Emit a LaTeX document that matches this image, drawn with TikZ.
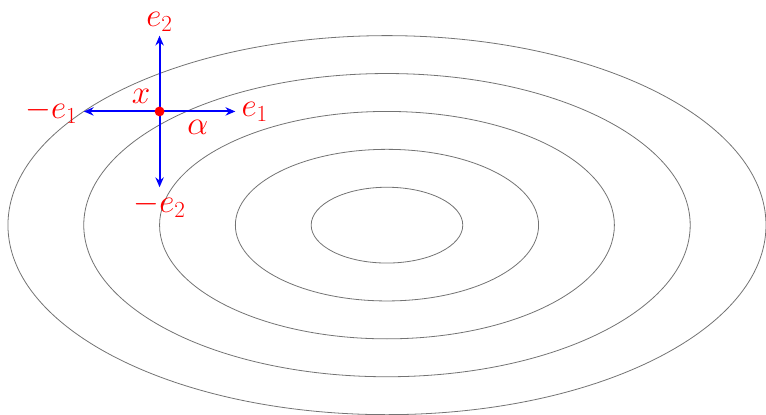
\documentclass[tikz,border=0pt]{standalone}
\usepackage{amsmath,amssymb}
\usepackage{xcolor}
\usetikzlibrary{arrows.meta,positioning,calc}

\begin{document}
\begin{tikzpicture}[
  contour/.style={draw=black!55, line width=0.6pt},
  vec/.style={-{Stealth[length=2.6mm, width=2.2mm]}, line width=1.5pt, color=blue},
  lbl/.style={text=red, font=\fontsize{25}{30}\selectfont, inner sep=4pt},
  pointdot/.style={circle, inner sep=0pt, minimum size=2.6mm}
]
  \useasboundingbox (-10.21,-4.99) rectangle (10,5.94);

  % Level sets
  \foreach \r in {1,...,5}
    \draw[contour] (0,0) ellipse ({2*\r} and \r);

  % Point and directions
  \coordinate (E1) at (-4,3);
  \coordinate (mE1) at (-8,3);
  \coordinate (E2) at (-6,5);
  \coordinate (mE2) at (-6,1);
  \node[pointdot] (pt) at (-6,3) {};

  % Arrows
  \draw[vec] (pt.center) -- (E1) node[lbl, right] {$e_1$};
  \draw[vec] (pt.center) -- (mE1) node[lbl, left] {$-e_1$};
  \draw[vec] (pt.center) -- (E2) node[lbl, above, inner sep=2pt] {$e_2$};
  \draw[vec] (pt.center) -- (mE2) node[lbl, below] {$-e_2$};
  \fill[red] (pt) circle (1.3mm);

  % Labels
  \node[lbl, above left=-1pt and 0pt of pt] {$x$};
  \node[lbl, below right=0pt and 14pt of pt] {$\alpha$};
\end{tikzpicture}
\end{document}
